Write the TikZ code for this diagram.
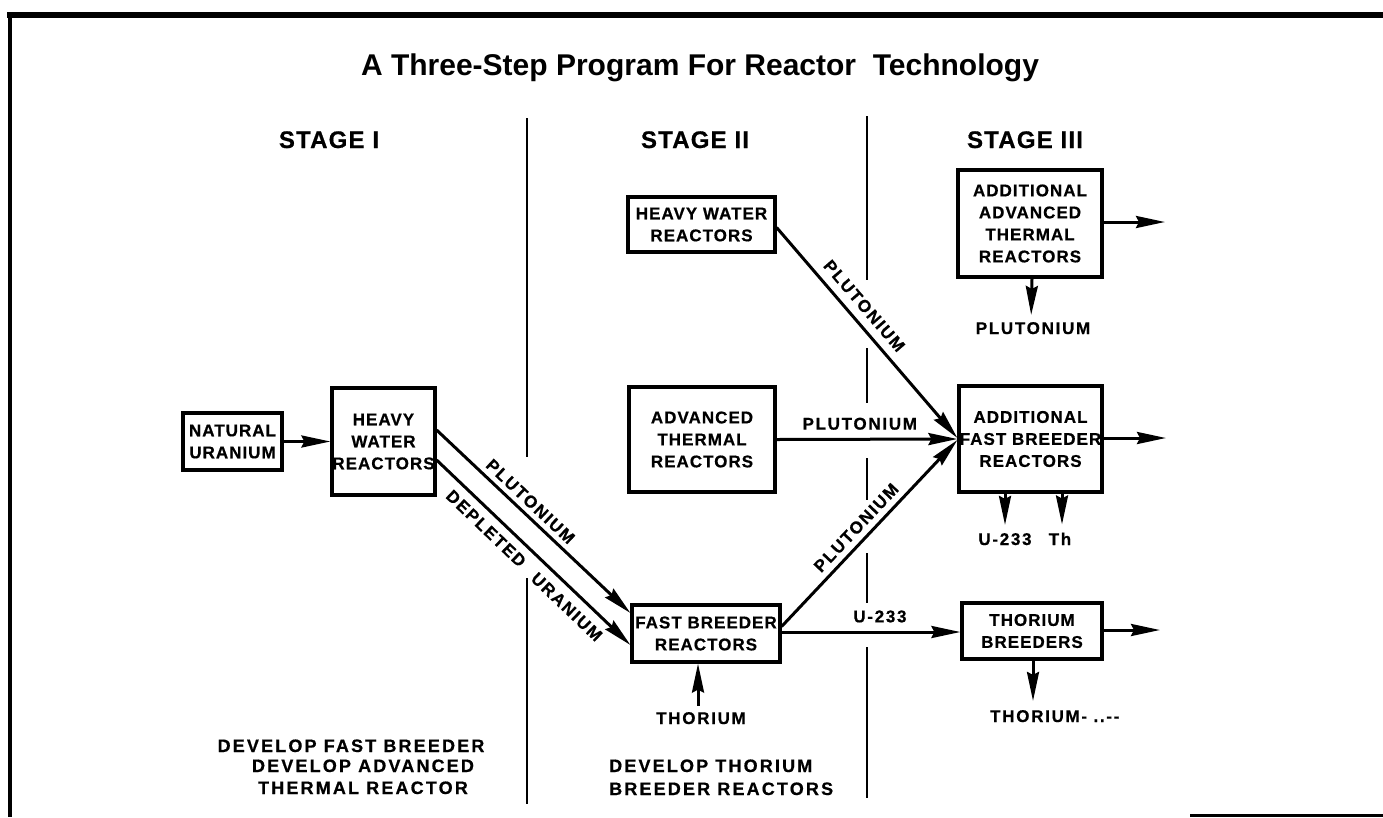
\documentclass[tikz,border=0pt]{standalone}
\usepackage{fontspec}
\setmainfont{Liberation Sans}
\newfontfamily\titlefont{Liberation Sans}
\newfontfamily\boxfont[LetterSpace=6,FakeBold=0.6]{Liberation Sans}
\newfontfamily\lblfont[LetterSpace=10,FakeBold=0.6]{Liberation Sans}
\newfontfamily\stagefont[LetterSpace=5,FakeBold=0.6]{Liberation Sans}
\newfontfamily\notefont[LetterSpace=12,FakeBold=0.6]{Liberation Sans}
\usetikzlibrary{arrows.meta,calc}
\begin{document}
\begin{tikzpicture}[x=1pt,y=-1pt,
  blk/.style={draw, line width=3.2pt, align=center, inner sep=0pt,
    font=\boxfont\bfseries\fontsize{17}{22}\selectfont},
  lbl/.style={inner sep=0pt, font=\lblfont\bfseries\fontsize{17}{22}\selectfont},
  stagelbl/.style={inner sep=0pt, anchor=base, font=\stagefont\bfseries\fontsize{24}{28}\selectfont},
  notelbl/.style={inner sep=0pt, font=\notefont\bfseries\fontsize{18}{21}\selectfont},
  arr/.style={line width=3pt, -{Stealth[length=29pt,width=12pt,inset=3pt]}},
  divider/.style={line width=2.6pt},
  framestyle/.style={line width=#1}
]
\useasboundingbox (0,0) rectangle (1383,817);
\fill[white] (0,0) rectangle (1383,817);

% frame
\draw[framestyle=6pt] (7,15) -- (1383,15);
\draw[framestyle=4.5pt] (10,13) -- (10,817);
\draw[framestyle=3pt] (1190,815.5) -- (1383,815.5);

% title
\node[inner sep=0pt, anchor=base, font=\titlefont\bfseries\fontsize{30}{36}\selectfont] (title) at (700,75)
  {A Three-Step Program For Reactor\ \ Technology};

% stage headers
\node[stagelbl] (s1) at (329,148) {STAGE I};
\node[stagelbl] (s2) at (695,148) {STAGE II};
\node[stagelbl] (s3) at (1025,148) {STAGE III};

% dividers
\draw[divider] (527,118) -- (527,457);
\draw[divider] (527,578) -- (527,804);
\draw[divider] (867,116) -- (867,280);
\draw[divider] (867,348) -- (867,403);
\draw[divider] (867,458) -- (867,500);
\draw[divider] (867,553) -- (867,603);
\draw[divider] (867,647) -- (867,798);

% boxes
\node[blk, minimum width=99pt, minimum height=57pt] (nu) at (232.5,441.5) {NATURAL\\URANIUM};
\node[blk, minimum width=103pt, minimum height=107pt] (hwa) at (383.5,441.5) {HEAVY\\WATER\\REACTORS};
\node[blk, minimum width=147pt, minimum height=55pt] (hwb) at (701.5,224.5) {HEAVY WATER\\REACTORS};
\node[blk, minimum width=146pt, minimum height=105pt] (at) at (702,439.5) {ADVANCED\\THERMAL\\REACTORS};
\node[blk, minimum width=148pt, minimum height=57pt] (fb) at (706,633.5) {FAST BREEDER\\REACTORS};
\node[blk, minimum width=144pt, minimum height=107pt] (aat) at (1030,223.5) {ADDITIONAL\\ADVANCED\\THERMAL\\REACTORS};
\node[blk, minimum width=143pt, minimum height=106pt] (afb) at (1030.5,439) {ADDITIONAL\\FAST BREEDER\\REACTORS};
\node[blk, minimum width=140pt, minimum height=56pt] (tb) at (1032,631) {THORIUM\\BREEDERS};

% free labels
\node[lbl, anchor=base] (puc) at (1033,334) {PLUTONIUM};
\node[lbl, anchor=base] (ua) at (1005,545) {U-233};
\node[lbl, anchor=base] (tha) at (1060,545) {Th};
\node[lbl, anchor=base] (thf) at (701,724) {THORIUM};
\node[lbl, anchor=base west] (tht) at (990,722) {THORIUM-\ ..--};

% free ends
\coordinate (outa) at (1165,222);
\coordinate (outb) at (1166,438);
\coordinate (outc) at (1160,630);

% connectors
\draw[arr] (nu.east) -- (hwa.west);
\draw[arr] ([yshift=11.5pt]hwa.east) -- ([yshift=20.5pt]fb.west)
  node[lbl, sloped, above=5pt, pos=0.44] {PLUTONIUM};
\draw[arr] ([yshift=-18.5pt]hwa.east) -- ([yshift=-11.5pt]fb.west)
  node[lbl, sloped, below=8pt, pos=0.31] {DEPLETED}
  node[lbl, sloped, below=9pt, pos=0.73] {URANIUM};
\draw[arr] ([yshift=-3pt]hwb.east) -- ([yshift=1pt]afb.west)
  node[lbl, sloped, above=8pt, pos=0.42] {PLUTONIUM};
\draw[arr] (at.east) -- (afb.west)
  node[lbl, above=8pt, pos=0.46] {PLUTONIUM};
\draw[arr] ([yshift=7pt]fb.east) -- ([yshift=-1pt]afb.west)
  node[lbl, sloped, above=6pt, pos=0.48] {PLUTONIUM};
\draw[arr] ([yshift=1.5pt]fb.east) -- ([yshift=1.5pt]fb.east -| tb.west)
  node[lbl, above=8pt, pos=0.55] {U-233};

\draw[arr] (aat.east |- outa) -- (outa);
\draw[arr] (afb.east |- outb) -- (outb);
\draw[arr] (tb.east |- outc) -- (outc);

\draw[arr, shorten >=7pt] ([xshift=2pt]aat.south) -- ([xshift=1pt]aat.south |- puc.north);
\draw[arr, shorten >=8pt] (ua.north |- afb.south) -- (ua.north);
\draw[arr, shorten >=8pt] ([xshift=2pt]tha.north |- afb.south) -- ([xshift=2pt]tha.north);
\draw[arr, shorten >=9pt] ([xshift=1pt]tb.south) -- ([xshift=1pt]tb.south |- tht.north);
\draw[arr, shorten <=6pt] ([xshift=-3pt]thf.north) -- ([xshift=-3pt]thf.north |- fb.south);

% notes
\node[notelbl, anchor=base] (n1) at (351,752) {DEVELOP FAST BREEDER};
\node[notelbl, anchor=base] (n2) at (363,772) {DEVELOP ADVANCED};
\node[notelbl, anchor=base] (n3) at (363,794) {THERMAL REACTOR};
\node[notelbl, anchor=base west] (n4) at (609,772) {DEVELOP THORIUM};
\node[notelbl, anchor=base west] (n5) at (609,795) {BREEDER REACTORS};
\end{tikzpicture}
\end{document}
